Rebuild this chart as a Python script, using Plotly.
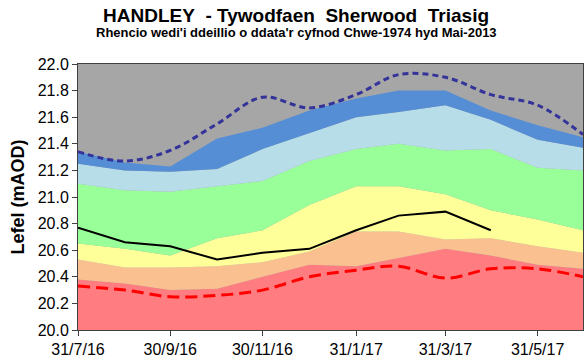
import plotly.graph_objects as go

# Month-end dates for the ranking bands
dates = ["2016-07-31", "2016-08-31", "2016-09-30", "2016-10-31", "2016-11-30", "2016-12-31",
         "2017-01-31", "2017-02-28", "2017-03-31", "2017-04-30", "2017-05-31", "2017-06-30"]

# Upper edge of each ranking band (mAOD)
red_top = [20.38, 20.35, 20.30, 20.31, 20.40, 20.49, 20.48, 20.54, 20.61, 20.56, 20.49, 20.46]
orange_top = [20.53, 20.47, 20.47, 20.48, 20.51, 20.59, 20.74, 20.74, 20.68, 20.69, 20.63, 20.58]
yellow_top = [20.65, 20.61, 20.56, 20.69, 20.75, 20.94, 21.08, 21.08, 21.02, 20.90, 20.83, 20.75]
green_top = [21.10, 21.05, 21.04, 21.08, 21.12, 21.27, 21.36, 21.40, 21.35, 21.36, 21.22, 21.20]
lightblue_top = [21.25, 21.20, 21.19, 21.21, 21.36, 21.48, 21.60, 21.64, 21.69, 21.58, 21.43, 21.37]
blue_top = [21.34, 21.26, 21.23, 21.44, 21.52, 21.65, 21.74, 21.80, 21.80, 21.65, 21.54, 21.45]

# Historic maximum and minimum
max_level = [21.34, 21.27, 21.35, 21.55, 21.75, 21.67, 21.77, 21.92, 21.90, 21.77, 21.69, 21.47]
min_level = [20.33, 20.30, 20.25, 20.26, 20.30, 20.40, 20.45, 20.48, 20.39, 20.46, 20.46, 20.40]

# Observed level, Jul 2016 - Apr 2017
level_dates = dates[:10]
level = [20.77, 20.66, 20.63, 20.53, 20.58, 20.61, 20.75, 20.86, 20.89, 20.75]

tick_dates = ["2016-07-31", "2016-09-30", "2016-11-30", "2017-01-31", "2017-03-31", "2017-05-31"]
tick_text = ["31/7/16", "30/9/16", "30/11/16", "31/1/17", "31/3/17", "31/5/17"]
y_ticks = [20.0 + 0.2 * i for i in range(11)]

bands = [
    (red_top, "#FF7C80"),
    (orange_top, "#FAC090"),
    (yellow_top, "#FFFF99"),
    (green_top, "#99FF99"),
    (lightblue_top, "#B7DDE8"),
    (blue_top, "#558ED5"),
]

fig = go.Figure()
for i, (vals, col) in enumerate(bands):
    fig.add_trace(go.Scatter(
        x=dates, y=vals, mode="lines", line=dict(width=0, color=col),
        fill="tozeroy" if i == 0 else "tonexty", fillcolor=col,
        hoverinfo="skip", showlegend=False))

fig.add_trace(go.Scatter(x=dates, y=max_level, mode="lines",
                         line=dict(color="#333399", width=3, dash="6px,4px", shape="spline"),
                         showlegend=False))
fig.add_trace(go.Scatter(x=dates, y=min_level, mode="lines",
                         line=dict(color="#FF0000", width=3, dash="12px,6px", shape="spline"),
                         showlegend=False))
fig.add_trace(go.Scatter(x=level_dates, y=level, mode="lines",
                         line=dict(color="#000000", width=2),
                         showlegend=False))

font_family = "Liberation Sans, Arial, sans-serif"
fig.update_layout(
    width=584, height=360,
    margin=dict(l=78, r=1, t=64, b=30),
    paper_bgcolor="white", plot_bgcolor="#A6A6A6",
    font=dict(family=font_family, color="#000000", size=16),
    annotations=[
        dict(text="<b>HANDLEY\u00a0 - Tywodfaen\u00a0 Sherwood\u00a0 Triasig</b>",
             x=296, y=15, xref="paper", yref="paper", showarrow=False,
             font=dict(size=19)),
        dict(text="<b>Rhencio wedi'i ddeillio o ddata'r cyfnod Chwe-1974 hyd Mai-2013</b>",
             x=296, y=33, xref="paper", yref="paper", showarrow=False,
             font=dict(size=13)),
    ],
)
# convert pixel positions for the heading annotations into paper coordinates
pw, ph = 584 - 78 - 1, 360 - 64 - 30
for a in fig.layout.annotations:
    px, py = a.x, a.y
    a.x = (px - 78) / pw
    a.y = (360 - 30 - py) / ph
    a.xanchor = "center"
    a.yanchor = "middle"

fig.update_xaxes(
    type="date", range=["2016-07-31", "2017-06-30"],
    tickmode="array", tickvals=tick_dates, ticktext=tick_text,
    ticks="outside", ticklen=5, tickcolor="#404040",
    showline=True, linecolor="#404040", linewidth=1, mirror=True,
    showgrid=False, zeroline=False, tickfont=dict(size=16),
)
fig.update_yaxes(
    range=[20.0, 22.0], tickmode="array", tickvals=y_ticks,
    ticktext=[f"{v:.1f}" for v in y_ticks],
    ticks="outside", ticklen=5, tickcolor="#404040",
    showline=True, linecolor="#404040", linewidth=1, mirror=True,
    showgrid=False, zeroline=False, tickfont=dict(size=16),
    title=dict(text="<b>Lefel (mAOD)</b>", font=dict(size=18), standoff=8),
)

fig.write_html("out.html")
